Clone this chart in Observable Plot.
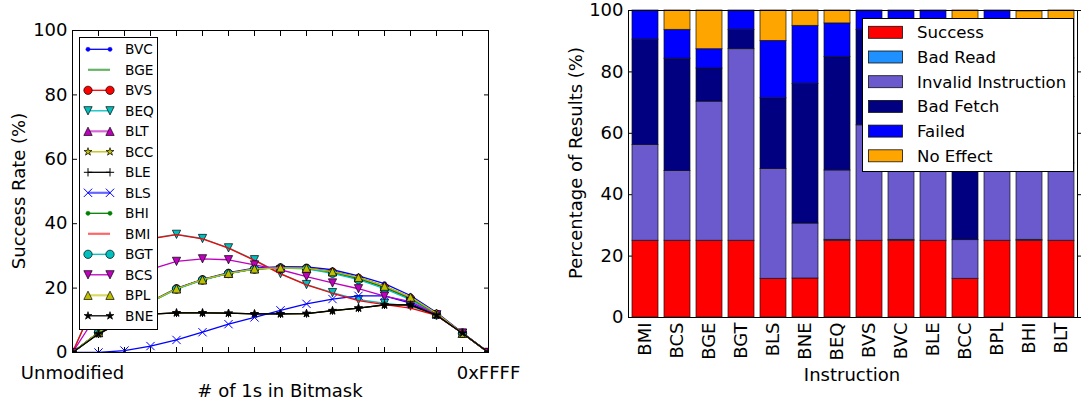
<!DOCTYPE html>
<html><head><meta charset="utf-8">
<script src="https://cdn.jsdelivr.net/npm/d3@7"></script>
<script src="https://cdn.jsdelivr.net/npm/@observablehq/plot@0.6"></script>
<style>
body{margin:0;background:#fff;}
#wrap{position:relative;width:1081px;height:402px;overflow:hidden;font-family:"DejaVu Sans",sans-serif;background:#fff;}
#wrap > svg{position:absolute;top:0;overflow:visible;}
.t{position:absolute;white-space:nowrap;font-size:18px;color:#000;line-height:1;font-family:"DejaVu Sans",sans-serif;}
</style></head><body><div id="wrap"></div>
<script>
// ---------------- Left chart data ----------------
const bitCounts = [0,1,2,3,4,5,6,7,8,9,10,11,12,13,14,15,16];
const xTickValues = [0, 16];
const xTickLabels = ["Unmodified", "0xFFFF"];
const yTicks = [0, 20, 40, 60, 80, 100];

const seriesNames = ["BVC","BGE","BVS","BEQ","BLT","BCC","BLE","BLS","BHI","BMI","BGT","BCS","BPL","BNE"];
const BVC = [0, 6.2, 11.6, 15.8, 19.9, 22.7, 24.8, 26.2, 26.7, 26.6, 25.7, 23.8, 21.4, 17.7, 12.4, 6.1, 0];
const BGE = [0, 6.2, 11.5, 15.7, 19.8, 22.6, 24.6, 26.0, 26.4, 26.3, 25.2, 23.3, 20.6, 17.1, 12.1, 6.0, 0];
const BVS = [0, 6.2, 11.5, 15.7, 19.8, 22.6, 24.6, 26.0, 26.3, 26.2, 25.0, 23.0, 20.3, 16.8, 11.9, 6.0, 0];
const BEQ = [0, 18.5, 31.5, 35.4, 36.7, 35.4, 32.5, 28.8, 24.5, 21.1, 18.6, 16.4, 15.3, 14.4, 11.6, 6.0, 0];
const BLT = [0, 6.2, 11.5, 15.7, 19.8, 22.6, 24.6, 26.0, 26.3, 26.2, 25.1, 23.2, 20.5, 17.0, 12.0, 6.0, 0];
const BCC = [0, 5.9, 10.0, 11.9, 12.3, 12.3, 12.2, 12.0, 12.0, 12.1, 12.9, 13.8, 14.7, 14.8, 11.6, 6.0, 0];
const BLE = [0, 5.8, 10.0, 11.9, 12.3, 12.3, 12.2, 12.0, 12.0, 12.1, 13.0, 13.8, 14.8, 14.8, 11.6, 6.0, 0];
const BLS = [0, 0, 0.6, 2.0, 3.9, 6.3, 8.8, 10.9, 13.1, 15.1, 16.6, 17.6, 17.6, 15.3, 11.7, 6.0, 0];
const BHI = [0, 6.2, 11.5, 15.7, 19.8, 22.6, 24.6, 26.0, 26.3, 26.1, 24.9, 22.9, 20.2, 16.7, 11.9, 6.0, 0];
const BMI = [0, 18.0, 31.0, 35.3, 36.6, 35.3, 32.4, 28.6, 24.4, 21.0, 18.4, 16.1, 14.9, 13.8, 11.5, 6.0, 0];
const BGT = [0, 6.2, 11.4, 15.6, 19.7, 22.5, 24.5, 25.9, 26.2, 26.0, 24.6, 22.6, 19.8, 16.4, 11.7, 6.0, 0];
const BCS = [0, 12.5, 21.0, 25.8, 28.3, 29.1, 28.8, 27.2, 25.7, 23.6, 21.6, 19.8, 17.5, 15.8, 11.7, 6.0, 0];
const BPL = [0, 6.2, 11.5, 15.7, 19.8, 22.6, 24.6, 26.0, 26.3, 26.2, 25.1, 23.3, 20.6, 17.2, 12.2, 6.0, 0];
const BNE = [0, 5.8, 10.0, 11.9, 12.3, 12.3, 12.2, 12.0, 12.0, 12.1, 13.0, 13.8, 14.8, 14.8, 11.6, 6.0, 0];
const seriesValues = [BVC,BGE,BVS,BEQ,BLT,BCC,BLE,BLS,BHI,BMI,BGT,BCS,BPL,BNE];

// ---------------- Right chart data ----------------
const instructions = ["BMI","BCS","BGE","BGT","BLS","BNE","BEQ","BVS","BVC","BLE","BCC","BPL","BHI","BLT"];
const categories = ["Success","Bad Read","Invalid Instruction","Bad Fetch","Failed","No Effect"];
const catColors = ["#ff0000","#1e90ff","#6a5acd","#000080","#0000ff","#ffa500"];
const successPct  = [25, 25, 25, 25, 12.6, 12.7, 25, 25, 25, 25, 12.6, 25, 25, 25];
const badReadPct  = [0, 0, 0, 0, 0, 0, 0.3, 0, 0.3, 0, 0, 0, 0.3, 0];
const invalidPct  = [31.2, 22.7, 45.3, 62.4, 35.8, 17.9, 22.6, 37.6, 37.2, 37.5, 12.6, 37.5, 37.2, 25.2];
const badFetchPct = [34.3, 36.6, 10.8, 6.3, 23.0, 45.5, 37.0, 31.1, 31.2, 31.2, 49.8, 31.2, 24.5, 21.6];
const failedPct   = [9.5, 9.4, 6.3, 6.3, 18.7, 18.9, 10.9, 6.3, 6.3, 6.3, 16.0, 6.3, 7.0, 12.6];
const noEffectPct = [0, 6.3, 12.6, 0, 9.9, 5.0, 4.2, 0, 0, 0, 9.0, 0, 5.7, 15.6];
const catValues = [successPct, badReadPct, invalidPct, badFetchPct, failedPct, noEffectPct];

// ---------------- Marker symbols (matplotlib-like) ----------------
const MS = 8.3;
const mk = f => ({draw(c, size) { f(c, Math.sqrt(size)); }});
const SYM = {
  point: mk((c, s) => { const r = s / 4; c.moveTo(r, 0); c.arc(0, 0, r, 0, 2 * Math.PI); }),
  circle: mk((c, s) => { const r = s / 2; c.moveTo(r, 0); c.arc(0, 0, r, 0, 2 * Math.PI); }),
  tri: mk((c, s) => { const h = s / 2; c.moveTo(0, -h); c.lineTo(h, h); c.lineTo(-h, h); c.closePath(); }),
  triDown: mk((c, s) => { const h = s / 2; c.moveTo(0, h); c.lineTo(h, -h); c.lineTo(-h, -h); c.closePath(); }),
  star: mk((c, s) => { const R = s / 2, r = R * 0.381966;
    for (let i = 0; i < 10; i++) { const a = -Math.PI / 2 + i * Math.PI / 5, rr = i % 2 ? r : R;
      if (i) c.lineTo(rr * Math.cos(a), rr * Math.sin(a)); else c.moveTo(rr * Math.cos(a), rr * Math.sin(a)); }
    c.closePath(); }),
  plus: mk((c, s) => { const h = s / 2; c.moveTo(-h, 0); c.lineTo(h, 0); c.moveTo(0, -h); c.lineTo(0, h); }),
  times: mk((c, s) => { const h = s / 2; c.moveTo(-h, -h); c.lineTo(h, h); c.moveTo(-h, h); c.lineTo(h, -h); })
};
const C = {b:"#0000ff", g:"#008000", r:"#ff0000", c:"#00bfbf", m:"#bf00bf", y:"#bfbf00", k:"#000000"};
const styles = {
  BVC:{color:C.b, sym:"point", fill:C.b, edge:C.b, ew:0.5},
  BGE:{color:C.g, sym:null, light:true},
  BVS:{color:C.r, sym:"circle", fill:C.r, edge:"#000", ew:0.7},
  BEQ:{color:C.c, sym:"triDown", fill:C.c, edge:"#000", ew:0.7},
  BLT:{color:C.m, sym:"tri", fill:C.m, edge:"#000", ew:0.7, light:true},
  BCC:{color:C.y, sym:"star", fill:C.y, edge:"#000", ew:0.7},
  BLE:{color:C.k, sym:"plus", fill:"none", edge:"#000", ew:1},
  BLS:{color:C.b, sym:"times", fill:"none", edge:C.b, ew:1, light:true},
  BHI:{color:C.g, sym:"point", fill:C.g, edge:C.g, ew:0.5},
  BMI:{color:C.r, sym:null, light:true},
  BGT:{color:C.c, sym:"circle", fill:C.c, edge:"#000", ew:0.7},
  BCS:{color:C.m, sym:"triDown", fill:C.m, edge:"#000", ew:0.7},
  BPL:{color:C.y, sym:"tri", fill:C.y, edge:"#000", ew:0.7, light:true},
  BNE:{color:C.k, sym:"star", fill:C.k, edge:"#000", ew:0.7}
};
const R = MS / Math.sqrt(Math.PI);

// ---------------- Left chart ----------------
const rows = [];
seriesNames.forEach((name, i) => bitCounts.forEach((b, j) => rows.push({series: name, bits: b, rate: seriesValues[i][j]})));
const seriesMarks = [];
seriesNames.forEach(name => {
  const d = rows.filter(r => r.series === name), st = styles[name];
  seriesMarks.push(Plot.line(d, {x: "bits", y: "rate", stroke: st.color, strokeWidth: 1.3, clip: true}));
  if (st.sym) seriesMarks.push(Plot.dot(d, {x: "bits", y: "rate", symbol: SYM[st.sym], r: R, fill: st.fill, stroke: st.edge, strokeWidth: st.ew, clip: true}));
});
const FS = 18;
const blank = () => "";
const left = Plot.plot({
  width: 540, height: 402,
  marginLeft: 72, marginRight: 52, marginTop: 30, marginBottom: 50,
  style: {fontFamily: "DejaVu Sans", fontSize: "18px", color: "black", background: "white"},
  x: {domain: [0, 16], label: null},
  y: {domain: [0, 100], label: null},
  marks: [
    ...seriesMarks,
    Plot.axisX({anchor: "bottom", ticks: bitCounts, tickSize: 5, dy: -5, tickFormat: blank, label: null}),
    Plot.axisX({anchor: "top", ticks: bitCounts, tickSize: 5, dy: 5, tickFormat: blank, label: null}),
    Plot.axisY({anchor: "left", ticks: yTicks, tickSize: 5, dx: 5, tickFormat: blank, label: null}),
    Plot.axisY({anchor: "right", ticks: yTicks, tickSize: 5, dx: -5, tickFormat: blank, label: null}),
    Plot.axisY({anchor: "left", ticks: yTicks, tickSize: 0, tickPadding: 5, fontSize: FS, label: null}),
    Plot.axisX({anchor: "bottom", ticks: xTickValues, tickSize: 0, tickPadding: 14, fontSize: FS, label: null,
      tickFormat: d => xTickLabels[xTickValues.indexOf(d)]}),
    Plot.frame({stroke: "black", strokeWidth: 1})
  ]
});
left.style.left = "0px";

// ---------------- Right chart ----------------
const barRows = [];
instructions.forEach((ins, i) => categories.forEach((c, k) => barRows.push({instruction: ins, category: c, pct: catValues[k][i]})));
const right = Plot.plot({
  width: 541, height: 402,
  marginLeft: 88, marginRight: 4, marginTop: 10, marginBottom: 85,
  style: {fontFamily: "DejaVu Sans", fontSize: "18px", color: "black", background: "white"},
  x: {type: "band", domain: instructions, paddingInner: 0.2, paddingOuter: 0, label: null},
  y: {domain: [0, 100], label: null},
  color: {domain: categories, range: catColors},
  marks: [
    Plot.axisY({anchor: "left", ticks: yTicks, tickSize: 5, dx: 5, tickFormat: blank, label: null}),
    Plot.barY(barRows, {x: "instruction", y: "pct", fill: "category", order: categories, stroke: "#111", strokeWidth: 0.8, strokeOpacity: 0.85}),
    Plot.axisY({anchor: "right", ticks: yTicks, tickSize: 4, tickFormat: blank, label: null}),
    Plot.axisY({anchor: "left", ticks: yTicks, tickSize: 0, tickPadding: 5, fontSize: FS, label: null}),
    Plot.axisX({anchor: "bottom", tickSize: 0, tickPadding: 5, tickRotate: -90, fontSize: FS, label: null}),
    Plot.frame({stroke: "black", strokeWidth: 1})
  ]
});
right.style.left = "540px";

const wrap = document.getElementById("wrap");
wrap.appendChild(left);
wrap.appendChild(right);

// ---------------- Axis titles ----------------
function title(txt, cx, cy, rot) {
  const d = document.createElement("div");
  d.className = "t"; d.textContent = txt;
  d.style.left = cx + "px"; d.style.top = cy + "px";
  d.style.transform = "translate(-50%,-50%)" + (rot ? " rotate(-90deg)" : "");
  wrap.appendChild(d);
}
title("Success Rate (%)", 19, 191, true);
title("# of 1s in Bitmask", 280, 391, false);
title("Percentage of Results (%)", 576, 163, true);
title("Instruction", 852, 375, false);

// ---------------- Left legend ----------------
function symPath(name, s) { const p = d3.path(); SYM[name].draw(p, s * s); return p.toString(); }
{
  const W = 79, H = 293;
  const svg = d3.create("svg").attr("width", W).attr("height", H)
    .style("left", "79px").style("top", "37px").style("position", "absolute");
  svg.append("rect").attr("x", 0.5).attr("y", 0.5).attr("width", W - 1).attr("height", H - 1)
    .attr("fill", "white").attr("stroke", "#000").attr("stroke-width", 1);
  seriesNames.forEach((name, i) => {
    const st = styles[name], y = 12.3 + 20.5 * i;
    svg.append("line").attr("x1", 9).attr("x2", 31).attr("y1", y).attr("y2", y)
      .attr("stroke", st.color).attr("stroke-width", st.light ? 2.2 : 1.3).attr("stroke-opacity", st.light ? 0.6 : 1);
    if (st.sym) [9, 31].forEach(x => svg.append("path").attr("d", symPath(st.sym, MS))
      .attr("transform", `translate(${x},${y})`).attr("fill", st.fill).attr("stroke", st.edge).attr("stroke-width", st.ew));
    svg.append("text").attr("x", 46).attr("y", y).attr("dy", "0.36em").text(name)
      .attr("font-family", "DejaVu Sans").attr("font-size", 13.7).attr("fill", "#000");
  });
  wrap.appendChild(svg.node());
}
// ---------------- Right legend ----------------
{
  const W = 212, H = 154;
  const svg = d3.create("svg").attr("width", W).attr("height", H)
    .style("left", "862px").style("top", "18px").style("position", "absolute");
  svg.append("rect").attr("x", 0.5).attr("y", 0.5).attr("width", W - 1).attr("height", H - 1)
    .attr("fill", "white").attr("stroke", "#000").attr("stroke-width", 1);
  categories.forEach((c, i) => {
    const y = 14.3 + 24.7 * i;
    svg.append("rect").attr("x", 6.5).attr("y", y - 6).attr("width", 34).attr("height", 12)
      .attr("fill", catColors[i]).attr("stroke", "#111").attr("stroke-width", 0.8);
    svg.append("text").attr("x", 55).attr("y", y).attr("dy", "0.36em").text(c)
      .attr("font-family", "DejaVu Sans").attr("font-size", 16.6).attr("fill", "#000");
  });
  wrap.appendChild(svg.node());
}
</script></body></html>
